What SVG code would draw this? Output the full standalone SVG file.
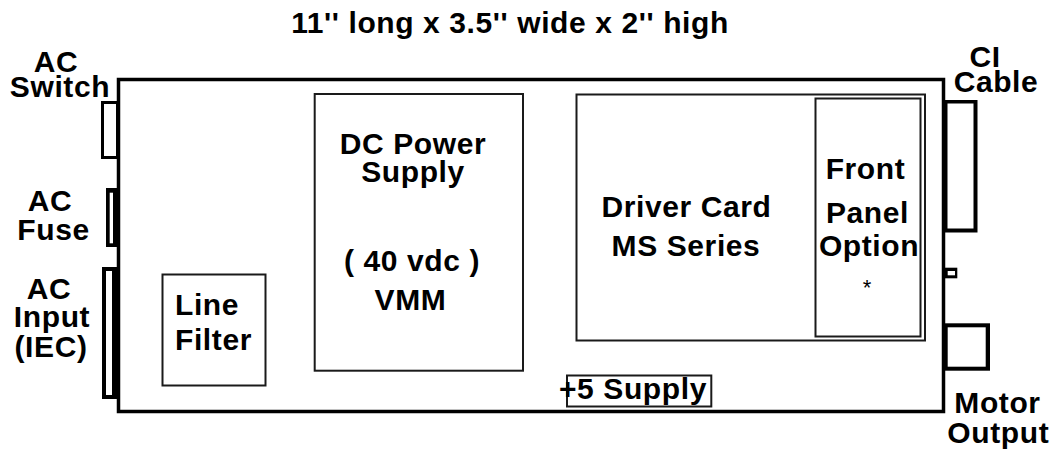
<svg xmlns="http://www.w3.org/2000/svg" width="1053" height="449" viewBox="0 0 1053 449">
  <style>
    text { font-family: "Liberation Sans", Arial, sans-serif; font-weight: bold; font-size: 30px; fill: #000; letter-spacing: 0.6px; }
    .c { text-anchor: middle; }
    .box { fill: #fff; stroke: #1a1a1a; stroke-width: 2; }
    .blk { fill: #000; }
    .wht { fill: #fff; }
  </style>
  <rect width="1053" height="449" fill="#fff"/>

  <g id="title">
    <text class="c" x="510" y="33">11'' long x 3.5'' wide x 2'' high</text>
  </g>

  <g id="enclosure">
    <rect x="118.5" y="79.5" width="825" height="332" fill="#fff" stroke="#000" stroke-width="3.5"/>
  </g>

  <g id="ac-switch">
    <rect x="102.5" y="102.5" width="15" height="55" fill="#fff" stroke="#000" stroke-width="3"/>
    <text class="c" x="56" y="72">AC</text>
    <text class="c" x="60" y="97">Switch</text>
  </g>

  <g id="ac-fuse">
    <rect class="blk" x="106" y="188" width="13" height="59"/>
    <rect class="wht" x="109.7" y="192.7" width="3.3" height="50.6"/>
    <text class="c" x="50" y="211">AC</text>
    <text class="c" x="53.5" y="240">Fuse</text>
  </g>

  <g id="ac-input">
    <rect class="blk" x="102" y="267" width="17" height="132"/>
    <rect class="wht" x="106" y="271" width="6" height="124"/>
    <text class="c" x="49" y="299">AC</text>
    <text class="c" x="52" y="327">Input</text>
    <text class="c" x="51" y="357">(IEC)</text>
  </g>

  <g id="line-filter">
    <rect class="box" x="162.5" y="274.5" width="103" height="111"/>
    <text x="175" y="315">Line</text>
    <text x="175" y="350">Filter</text>
  </g>

  <g id="dc-power-supply">
    <rect class="box" x="314.7" y="94" width="208.3" height="276.7"/>
    <text class="c" x="413" y="154">DC Power</text>
    <text class="c" x="413" y="181.5">Supply</text>
    <text class="c" x="412" y="270.5">( 40 vdc )</text>
    <text class="c" x="410.5" y="310">VMM</text>
  </g>

  <g id="driver-card">
    <rect class="box" x="576.5" y="94.5" width="348.5" height="246"/>
    <text class="c" x="686.5" y="216.5">Driver Card</text>
    <text class="c" x="686" y="256">MS Series</text>
  </g>

  <g id="front-panel-option">
    <rect class="box" x="815.5" y="98.5" width="105" height="238"/>
    <text class="c" x="865.5" y="179">Front</text>
    <text class="c" x="867.5" y="223">Panel</text>
    <text class="c" x="869" y="256">Option</text>
    <text class="c" x="867" y="295" style="font-weight:normal;font-size:22px;letter-spacing:0">*</text>
  </g>

  <g id="supply-5v">
    <rect class="box" x="567" y="375.5" width="144.3" height="31"/>
    <text x="559" y="399">+5 Supply</text>
  </g>

  <g id="ci-cable">
    <rect class="blk" x="942" y="100" width="35.5" height="132.5"/>
    <rect class="wht" x="947.5" y="103.5" width="26" height="125"/>
    <text class="c" x="985" y="67">CI</text>
    <text class="c" x="996" y="92">Cable</text>
  </g>

  <g id="status-port">
    <rect class="blk" x="943" y="267.7" width="14.3" height="10.6"/>
    <rect class="wht" x="947.7" y="271" width="7.3" height="4.3"/>
  </g>

  <g id="motor-output">
    <rect class="blk" x="942" y="323.3" width="48" height="47.4"/>
    <rect class="wht" x="947.7" y="327.3" width="38" height="39.4"/>
    <text class="c" x="997.5" y="413">Motor</text>
    <text class="c" x="998.3" y="442.5">Output</text>
  </g>
</svg>
